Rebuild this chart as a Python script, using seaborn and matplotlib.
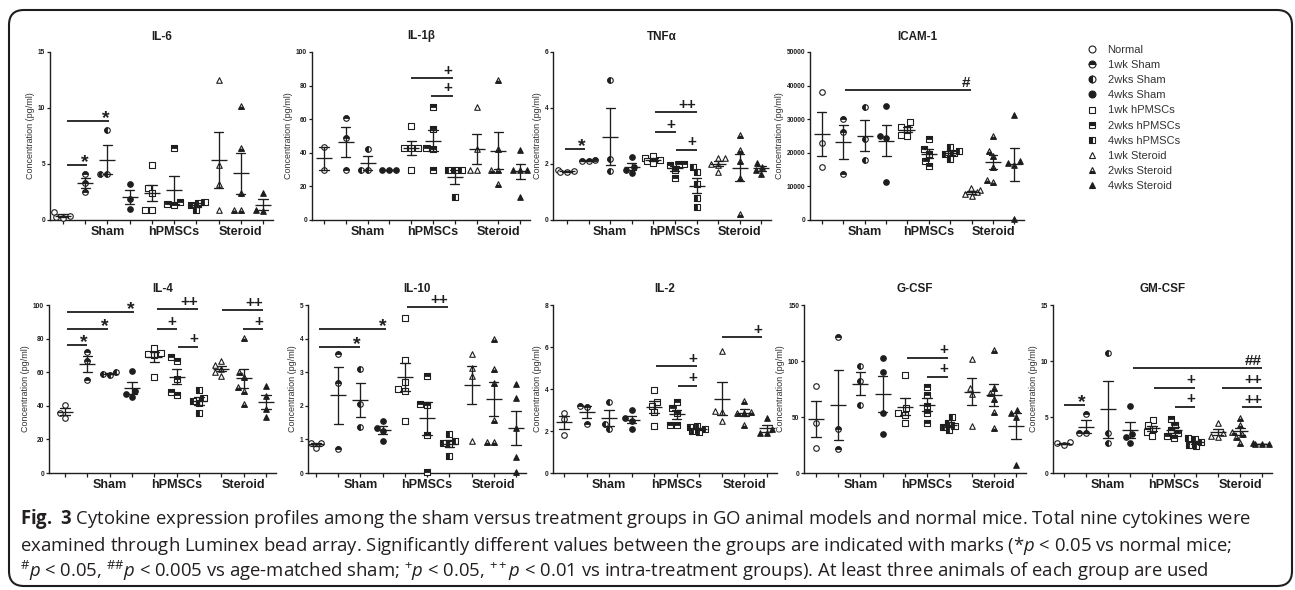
import numpy as np
import pandas as pd
import matplotlib
matplotlib.use("Agg")
import matplotlib.pyplot as plt
import seaborn as sns
from matplotlib.lines import Line2D
from matplotlib.markers import MarkerStyle
from matplotlib.patches import FancyBboxPatch
from matplotlib.transforms import IdentityTransform

# =============================================================================
# Data: concentration (pg/ml) per animal, one list per group
# =============================================================================

GROUPS = ["Normal", "1wk Sham", "2wks Sham", "4wks Sham",
          "1wk hPMSCs", "2wks hPMSCs", "4wks hPMSCs",
          "1wk Steroid", "2wks Steroid", "4wks Steroid"]
GROUP_TICKS = ["", "", "Sham", "", "", "hPMSCs", "", "", "Steroid", ""]

IL6 = [[0.7, 0.4, 0.3, 0.2], [4.1, 3.3, 2.5], [8.0, 4.1, 4.1], [3.2, 1.9, 1.0],
       [4.9, 2.9, 2.4, 0.9, 0.9], [6.4, 1.6, 1.4, 1.3], [1.6, 1.5, 1.3, 0.9],
       [12.5, 4.9, 3.2, 0.9], [10.2, 6.4, 2.4, 0.9, 0.9], [2.4, 0.9, 0.8]]
IL1B = [[43.6, 29.8], [60.9, 48.8, 29.8], [42.3, 29.8, 29.8], [29.8, 29.8, 29.8],
        [56.0, 43.0, 43.0, 43.0, 29.8], [67.5, 54.0, 43.0, 42.0, 29.8],
        [29.8, 29.8, 29.8, 13.5], [67.5, 42.3, 29.8, 29.8],
        [83.3, 42.3, 29.8, 29.8, 21.2], [41.7, 29.8, 29.8, 29.8, 13.5]]
TNFA = [[1.8, 1.75, 1.7, 1.7], [2.15, 2.1, 2.1], [5.0, 2.18, 1.74], [2.25, 1.9, 1.8, 1.68],
        [2.3, 2.2, 2.15, 2.1, 2.05], [2.0, 2.0, 1.95, 1.8, 1.5], [1.9, 1.7, 1.3, 0.8, 0.45],
        [2.2, 2.2, 2.0, 1.95, 1.7], [3.04, 2.5, 2.1, 1.5, 0.2], [2.05, 1.9, 1.8, 1.65]]
ICAM1 = [[38200, 23000, 15800], [30100, 26100, 13600], [33500, 24000, 17900],
         [34000, 25000, 24300, 11200], [29100, 27800, 27200, 25200, 25000],
         [24000, 21000, 19700, 17700, 16000], [21700, 20500, 20000, 19500, 18300],
         [9500, 9000, 8300, 7800, 7000], [25000, 20500, 18900, 15800, 12000, 11200],
         [31200, 17700, 17000, 16500, 200]]
IL4 = [[40.5, 36.0, 33.0], [71.8, 66.9, 55.4], [60.0, 59.0, 58.5], [60.7, 49.0, 47.0, 45.5],
       [74.2, 71.5, 71.0, 70.0, 57.3], [68.9, 66.5, 56.0, 48.5, 46.4],
       [49.4, 44.4, 43.0, 41.5, 36.0], [66.5, 64.0, 62.0, 60.0, 58.0],
       [80.2, 60.0, 57.0, 51.0, 49.0, 40.9], [52.0, 46.0, 38.0, 33.5]]
IL10 = [[0.9, 0.9, 0.75], [3.54, 2.67, 0.71], [3.11, 2.05, 1.36], [1.55, 1.35, 1.25, 0.95],
        [4.62, 3.35, 2.7, 2.5, 2.45, 1.56], [2.89, 2.05, 2.02, 1.14, 0.04],
        [1.15, 0.95, 0.9, 0.85, 0.5], [3.54, 3.12, 2.89, 0.95],
        [3.99, 3.11, 2.67, 1.59, 0.93, 0.93], [2.66, 2.22, 1.34, 0.47, 0.03]]
IL2 = [[2.88, 2.55, 1.83], [3.2, 3.15, 2.35], [3.4, 2.35, 2.1], [2.98, 2.6, 2.5, 2.1],
       [3.94, 3.4, 3.2, 2.9, 2.23], [3.4, 3.1, 2.85, 2.3, 2.3], [2.25, 2.2, 2.1, 2.0, 1.95],
       [5.83, 2.96, 2.9, 2.5], [3.42, 2.9, 2.88, 2.85, 2.3], [2.6, 2.1, 1.92, 1.9]]
GCSF = [[77.7, 44.4, 22.0], [121.7, 39.0, 21.2], [95.8, 82.5, 60.5], [103.0, 90.4, 53.6, 34.8],
        [87.5, 57.8, 54.0, 52.0, 45.0], [77.0, 69.6, 60.0, 53.3, 44.4],
        [50.0, 45.0, 42.0, 41.0, 38.0], [101.8, 76.2, 70.5, 42.0],
        [109.8, 76.0, 71.0, 66.0, 54.7, 40.0], [56.0, 54.0, 50.0, 7.0]]
GMCSF = [[2.75, 2.65, 2.5], [5.3, 3.55, 3.55], [10.74, 3.6, 2.7], [6.0, 3.5, 3.2, 2.7],
         [4.73, 4.3, 3.9, 3.7, 3.3], [4.8, 4.3, 3.8, 3.6, 3.3, 3.1], [3.1, 3.0, 2.8, 2.5, 2.4],
         [4.49, 3.6, 3.3, 3.2], [4.9, 4.3, 3.7, 3.5, 3.2, 2.7], [2.65, 2.6, 2.6, 2.55]]

# significance bars: (from group, to group, height, mark)
IL6_SIG = [(0.18, 1.1, 4.9, "*"), (0.18, 2.05, 8.85, "*")]
IL1B_SIG = [(4.0, 5.9, 84.3, "+"), (4.9, 5.9, 74.0, "+")]
TNFA_SIG = [(-0.1, 0.83, 2.54, "*"), (4.07, 5.03, 3.13, "+"),
            (5.05, 6.0, 2.51, "+"), (4.07, 6.0, 3.86, "++")]
ICAM1_SIG = [(1.07, 6.95, 38600, "#")]
IL4_SIG = [(0.08, 0.97, 76.2, "*"), (0.08, 1.94, 85.5, "*"), (0.08, 3.1, 96.0, "*"),
           (4.1, 5.0, 85.5, "+"), (5.04, 5.95, 75.2, "+"), (4.1, 5.95, 97.6, "++"),
           (7.03, 8.86, 97.0, "++"), (7.95, 8.86, 85.5, "+")]
IL10_SIG = [(0.15, 1.98, 3.76, "*"), (0.15, 3.15, 4.29, "*"), (4.11, 5.96, 4.94, "++")]
IL2_SIG = [(4.09, 5.9, 5.08, "+"), (5.04, 5.9, 4.15, "+"), (7.0, 8.8, 6.47, "+")]
GCSF_SIG = [(4.08, 5.93, 103.0, "+"), (5.0, 5.93, 86.0, "+")]
GMCSF_SIG = [(0.01, 0.95, 6.07, "*"), (3.12, 8.99, 9.35, "##"), (4.1, 5.95, 7.62, "+"),
             (7.17, 9.0, 7.62, "++"), (5.05, 5.95, 5.92, "+"), (8.1, 9.0, 5.88, "++")]

CAPTION = [
    r"$\mathbf{Fig.\ 3}$ Cytokine expression profiles among the sham versus treatment groups "
    r"in GO animal models and normal mice. Total nine cytokines were",
    r"examined through Luminex bead array. Significantly different values between the groups "
    r"are indicated with marks (*$p$ < 0.05 vs normal mice;",
    r"${}^{\#}p$ < 0.05, ${}^{\#\#}p$ < 0.005 vs age-matched sham; ${}^{+}p$ < 0.05, "
    r"${}^{++}p$ < 0.01 vs intra-treatment groups). At least three animals of each group are used",
]

# =============================================================================
# Layout and style
# =============================================================================

W, H = 1295, 590
INK = "#1e1e1e"
MARKERS = ["o", "o", "o", "o", "s", "s", "s", "^", "^", "^"]
FILLS = ["none", "top", "left", "full", "none", "top", "left", "none", "bottom", "full"]
MS = 4.0

ROWS = {"top": (52, 220), "bottom": (305, 473)}   # pixel rows: y of top tick, y of zero
# title, data, marks, ymax, ystep, row, left px, right px, x of left spine
PANELS = [
    ("IL-6", IL6, IL6_SIG, 15, 5, "top", 50, 273, -0.585),
    ("IL-1\u03b2", IL1B, IL1B_SIG, 100, 20, "top", 312, 530, -0.55),
    ("TNF\u03b1", TNFA, TNFA_SIG, 6, 2, "top", 553, 771, -0.65),
    ("ICAM-1", ICAM1, ICAM1_SIG, 50000, 10000, "top", 810, 1024, -0.56),
    ("IL-4", IL4, IL4_SIG, 100, 20, "bottom", 49, 276, -0.72),
    ("IL-10", IL10, IL10_SIG, 5, 1, "bottom", 308, 526, -0.36),
    ("IL-2", IL2, IL2_SIG, 8, 2, "bottom", 553, 777, -0.49),
    ("G-CSF", GCSF, GCSF_SIG, 150, 50, "bottom", 804, 1026, -0.54),
    ("GM-CSF", GMCSF, GMCSF_SIG, 15, 5, "bottom", 1053, 1272, -0.5),
]

sns.set_theme(style="ticks")
plt.rcParams["font.family"] = ["Liberation Sans", "DejaVu Sans"]
plt.rcParams.update({
    "mathtext.fontset": "custom",
    "mathtext.rm": "Open Sans",
    "mathtext.it": "Open Sans:italic",
    "mathtext.bf": "Open Sans:bold",
})


def add_mark(ax, x, y, mark):
    # the asterisk sits high in its em box, so it is pulled down to the bar
    if mark == "*":
        ax.annotate(mark, (x, y), xytext=(0.5, -1.4), textcoords="offset points",
                    ha="right", va="baseline", fontsize=14, fontweight="bold",
                    color=INK, annotation_clip=False)
    else:
        ax.annotate(mark, (x, y), xytext=(0, 0.3), textcoords="offset points",
                    ha="right", va="bottom", fontsize=11, fontweight="bold",
                    color=INK, annotation_clip=False)


def draw_panel(ax, title, values, sig, ymax, ystep, xmin):
    # individual animals, spread like a beeswarm
    for i, vals in enumerate(values):
        x = np.full(len(vals), i)
        m, f = MARKERS[i], FILLS[i]
        face = INK if f == "full" else "white"
        sns.swarmplot(x=x, y=vals, native_scale=True, orient="x", marker=m, size=MS,
                      color=face, edgecolor=INK, linewidth=0.8, clip_on=False,
                      zorder=3, ax=ax)
        if f not in ("full", "none"):
            sns.swarmplot(x=x, y=vals, native_scale=True, orient="x",
                          marker=MarkerStyle(m, fillstyle=f), size=MS, color=INK,
                          edgecolor=INK, linewidth=0.6, clip_on=False, zorder=3.1, ax=ax)

    # mean +/- SEM
    df = pd.DataFrame({
        "grp": np.repeat(np.arange(len(values)), [len(v) for v in values]),
        "val": np.concatenate(values),
    })
    sns.pointplot(data=df, x="grp", y="val", native_scale=True, orient="x",
                  errorbar="se", capsize=0.42, color=INK, markers="_",
                  linestyles="none", markersize=11, markeredgewidth=0.95,
                  err_kws={"linewidth": 0.95, "zorder": 4}, zorder=4, ax=ax)

    for x0, x1, y, mark in sig:
        ax.plot([x0, x1], [y, y], color=INK, lw=1.3, clip_on=False,
                solid_capstyle="butt")
        add_mark(ax, x1, y, mark)

    ax.set_xlim(xmin, 9.45)
    ax.set_ylim(0, ymax)
    ax.set_xticks(range(len(GROUPS)))
    ax.set_xticklabels(GROUP_TICKS, fontsize=9.1, fontweight="bold", color=INK)
    yt = np.arange(0, ymax + ystep / 2, ystep)
    ax.set_yticks(yt)
    ax.set_yticklabels([f"{v:g}" for v in yt], fontsize=4.8, fontweight="bold", color=INK)
    ax.tick_params(axis="x", length=3, width=0.9, pad=1.5, color=INK)
    ax.tick_params(axis="y", length=2.5, width=0.9, pad=1, color=INK)
    ax.set_xlabel("")
    ax.set_ylabel("Concentration (pg/ml)", fontsize=6.5, color="#333333", labelpad=2)
    ax.set_title(title, fontsize=8.4, fontweight="bold", pad=9, color=INK)
    sns.despine(ax=ax)
    for side in ("left", "bottom"):
        ax.spines[side].set_linewidth(1.0)
        ax.spines[side].set_color(INK)
    ax.patch.set_alpha(0)


fig = plt.figure(figsize=(W / 100, H / 100), dpi=100)

for title, values, sig, ymax, ystep, row, left, right, xmin in PANELS:
    top_px, zero_px = ROWS[row]
    ax = fig.add_axes([left / W, 1 - zero_px / H, (right - left) / W, (zero_px - top_px) / H])
    draw_panel(ax, title, values, sig, ymax, ystep, xmin)

# legend of the ten groups
handles = []
for m, f in zip(MARKERS, FILLS):
    handles.append(Line2D([], [], ls="none", marker=m, fillstyle=f, markersize=5,
                          markerfacecolor=INK, markerfacecoloralt="white",
                          markeredgecolor=INK, markeredgewidth=0.8))
fig.legend(handles, GROUPS, loc="upper left", bbox_to_anchor=(1086.5 / W, 1 - 45 / H),
           frameon=False, fontsize=8, handlelength=1.0, handletextpad=0.9,
           labelspacing=0.46, borderpad=0, borderaxespad=0, labelcolor="#333333")

# caption, sized so the first line spans the same width as in the figure
cap_texts = [fig.text(20 / W, 1 - b / H, s, fontfamily="Open Sans", fontsize=14,
                      color="#231f20", ha="left", va="baseline")
             for s, b in zip(CAPTION, (524, 551, 577))]
fig.canvas.draw()
w0 = cap_texts[0].get_window_extent().width
for t in cap_texts:
    t.set_fontsize(14 * 1237 / w0)

# rounded frame around the whole figure
frame = FancyBboxPatch((9, H - 586), 1283, 576, boxstyle="round,pad=0,rounding_size=15",
                       transform=IdentityTransform(), fill=False, lw=1.5, ec=INK)
fig.add_artist(frame)

fig.savefig("out.png", dpi=100)
